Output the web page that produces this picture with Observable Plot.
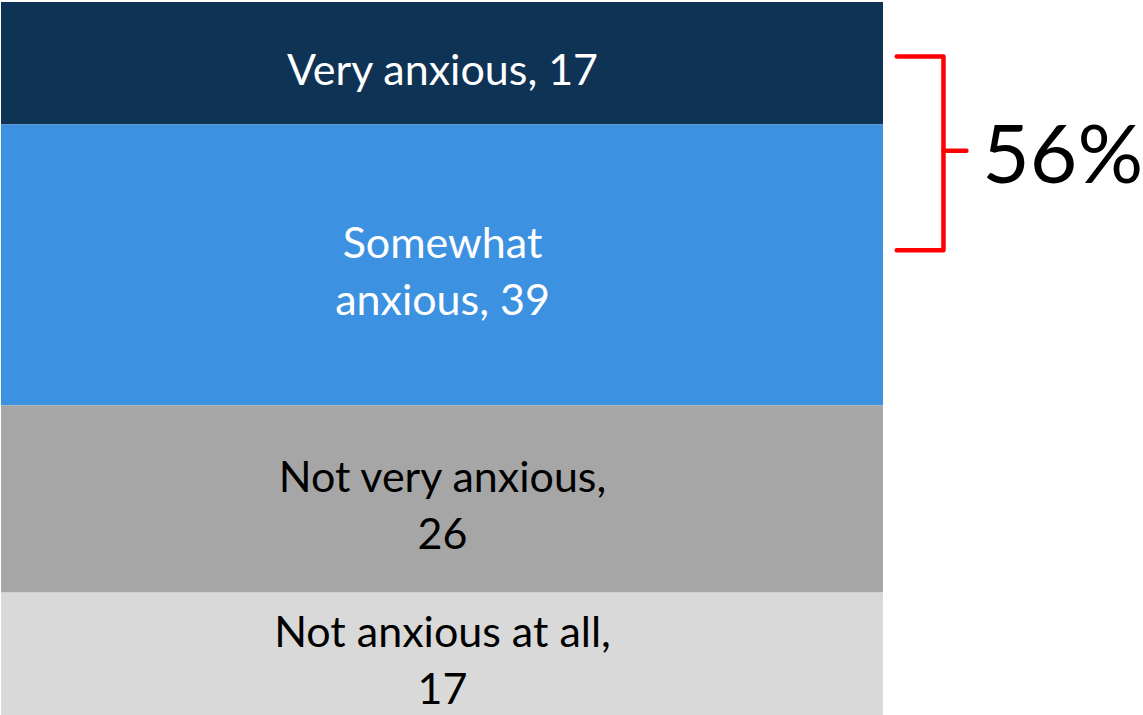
<!DOCTYPE html>
<html>
<head>
<meta charset="utf-8">
<script src="https://cdn.jsdelivr.net/npm/d3@7"></script>
<script src="https://cdn.jsdelivr.net/npm/@observablehq/plot@0.6"></script>
<style>
  html, body { margin: 0; padding: 0; background: #fff; }
  #chart svg { display: block; }
</style>
</head>
<body>
<div id="chart"></div>
<script>
const categories = ["Very anxious", "Somewhat anxious", "Not very anxious", "Not anxious at all"];
const values = [17, 39, 26, 17];
const labels = ["Very anxious, 17", "Somewhat\nanxious, 39", "Not very anxious,\n26", "Not anxious at all,\n17"];
const colors = ["#0f3354", "#3c92e0", "#a6a6a6", "#d9d9d9"];
const textColors = ["white", "white", "black", "black"];
const bracketTop = 7.5, bracketBottom = 34.4, bracketMid = 20.6;
const bracketLabel = "56%";

const data = categories.map((c, i) => ({category: c, value: values[i], label: labels[i], tc: textColors[i]}));

const bracket = [
  {x: 1.015, y: bracketTop},
  {x: 1.068, y: bracketTop},
  {x: 1.068, y: bracketBottom},
  {x: 1.015, y: bracketBottom}
];
const tick = [{x: 1.068, y: bracketMid}, {x: 1.094, y: bracketMid}];

const chart = Plot.plot({
  width: 1143,
  height: 715,
  margin: 0,
  style: {fontFamily: "Lato, sans-serif", background: "white"},
  x: {type: "linear", domain: [0, 1], range: [1, 883], axis: null},
  y: {domain: [0, 99], range: [2, 715], axis: null},
  color: {domain: categories, range: colors},
  marks: [
    Plot.rectY(data, Plot.stackY({x1: 0, x2: 1, y: "value", fill: "category", order: null})),
    Plot.text(data, Plot.stackY({x: 0.5, y: "value", text: "label", fill: "tc", order: null, fontSize: 43, lineHeight: 1.33, dy: 3})),
    Plot.line(bracket, {x: "x", y: "y", stroke: "#ff0000", strokeWidth: 4.5, strokeLinejoin: "round", curve: "linear"}),
    Plot.line(tick, {x: "x", y: "y", stroke: "#ff0000", strokeWidth: 4.5}),
    Plot.text([bracketLabel], {x: 1.112, y: bracketMid, text: d => d, textAnchor: "start", fontSize: 82, dy: 6, fill: "black"})
  ]
});
document.getElementById("chart").appendChild(chart);
</script>
</body>
</html>
